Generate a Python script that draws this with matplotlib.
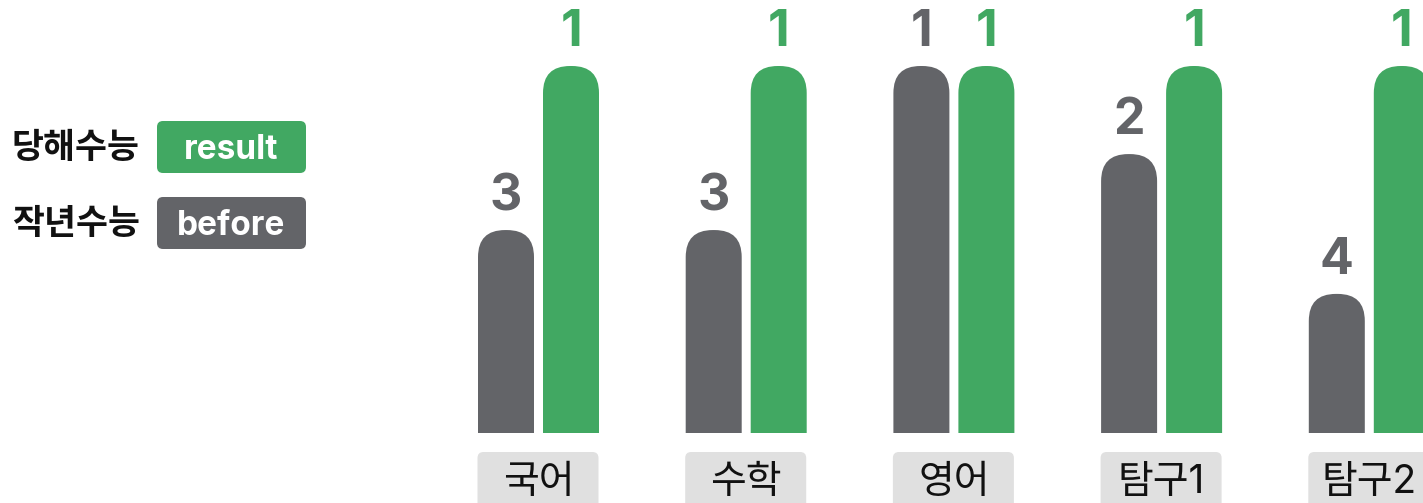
import matplotlib.pyplot as plt
from matplotlib.patches import FancyBboxPatch

# data
subjects = ['국어', '수학', '영어', '탐구1', '탐구2']
before = [3, 3, 1, 2, 4]
result = [1, 1, 1, 1, 1]
grade_height = {1: 100, 2: 76.0, 3: 55.3, 4: 37.9}  # bar height per grade

GREEN = '#41a862'
GRAY = '#636468'
LABEL_BG = '#e0e0e0'

plt.rcParams['font.family'] = ['Inter', 'Noto Sans CJK KR', 'DejaVu Sans']

W, H = 1423, 503
fig = plt.figure(figsize=(W / 100, H / 100), dpi=100)

base = 70          # baseline, px from bottom
group_px = 207.7   # px between subjects
x0_px = 538.5      # px of first subject centre
xlim = (-x0_px / group_px, (W - x0_px) / group_px)
px_y = 367 / 100   # px per height unit

# legend (pixel coords)
leg = fig.add_axes([0, 0, 1, 1], zorder=0)
leg.set_xlim(0, W)
leg.set_ylim(H, 0)
leg.axis('off')
for label, name, color, yc in [('당해수능', 'result', GREEN, 147),
                               ('작년수능', 'before', GRAY, 223)]:
    leg.text(12, yc + 2, label, ha='left', va='center', fontsize=25,
             fontweight='bold', color='#111111')
    leg.add_patch(FancyBboxPatch((157, yc - 26), 149, 52,
                                 boxstyle='round,pad=0,rounding_size=6',
                                 fc=color, ec='none'))
    leg.text(231.5, yc + 3, name, ha='center', va='center', fontsize=24,
             fontweight='bold', color='white')

# bars
ax = fig.add_axes([0, base / H, 1, (H - base) / H], zorder=1)
ax.set_xlim(xlim)
ax.set_ylim(0, (H - base) / px_y)
ax.axis('off')
ax.patch.set_alpha(0)

bw = 56 / group_px
off = 32.5 / group_px
rad = 27 / group_px
aspect = group_px / px_y


def rbar(x, grade, color):
    h = grade_height[grade]
    ax.add_patch(FancyBboxPatch((x - bw / 2, -40), bw, h + 40,
                                boxstyle=f'round,pad=0,rounding_size={rad}',
                                mutation_aspect=aspect, fc=color, ec='none'))
    ax.annotate(str(grade), (x, h), xytext=(0, 24), textcoords='offset points',
                ha='center', va='center', fontsize=36, fontweight='bold',
                color=color)


for i in range(len(subjects)):
    rbar(i - off, before[i], GRAY)
    rbar(i + off, result[i], GREEN)

# subject labels
lax = fig.add_axes([0, 0, 1, base / H], zorder=1)
lax.set_xlim(xlim)
lax.set_ylim(0, base)
lax.axis('off')
lax.patch.set_alpha(0)
for i, s in enumerate(subjects):
    lax.add_patch(FancyBboxPatch((i - 61 / group_px, -20), 121 / group_px, 71,
                                 boxstyle=f'round,pad=0,rounding_size={6 / group_px}',
                                 mutation_aspect=group_px, fc=LABEL_BG, ec='none'))
    lax.text(i, 21, s, ha='center', va='center', fontsize=28, color='#111111')

fig.savefig('out.png', dpi=100)
